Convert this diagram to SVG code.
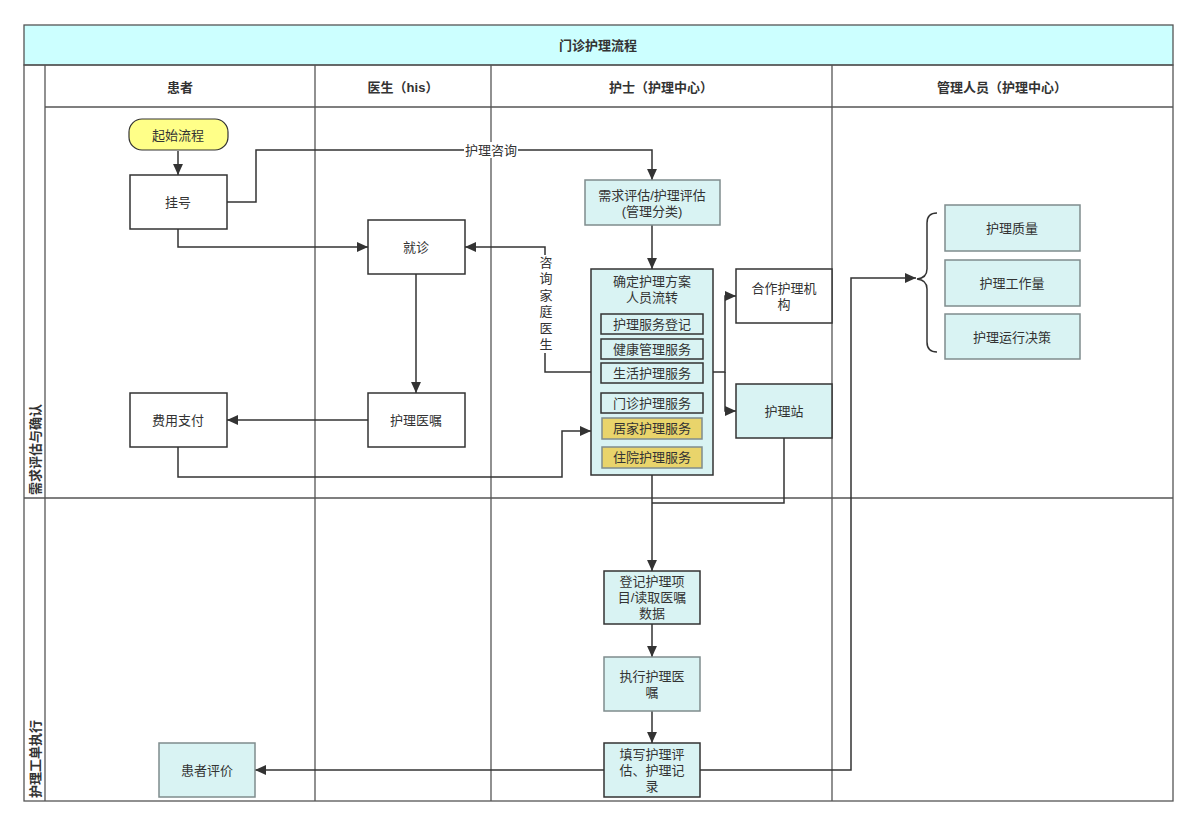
<svg xmlns="http://www.w3.org/2000/svg" width="1198" height="826" viewBox="0 0 1198 826">
<defs>
<marker id="arr" viewBox="0 0 10 10" refX="10" refY="5" markerWidth="11" markerHeight="11" markerUnits="userSpaceOnUse" orient="auto"><path d="M0,0.5 L10,5 L0,9.5 Z" fill="#333"/></marker>
<style>
text{font-family:"Liberation Sans","Noto Sans CJK SC",sans-serif;font-size:13px;fill:#333;text-anchor:middle;dominant-baseline:central}
.b{font-weight:bold}
.lane{fill:none;stroke:#555;stroke-width:1.3}
.c{fill:none;stroke:#333;stroke-width:1.5}
.ca{fill:none;stroke:#333;stroke-width:1.5;marker-end:url(#arr)}
.w{fill:#fff;stroke:#333;stroke-width:1.5}
.cy{fill:#d9f3f3;stroke:#333;stroke-width:1.5}
.cg{fill:#d9f3f3;stroke:#7f8c8d;stroke-width:1.5}
.gd{fill:#e9d46b;stroke:#7f8c8d;stroke-width:1.5}
.vt{writing-mode:vertical-rl;letter-spacing:3.5px}
</style>
</defs>
<rect width="1198" height="826" fill="#fff"/>
<g id="pool">
<rect x="24" y="25" width="1149" height="40" fill="#ccffff" stroke="#555" stroke-width="1.3"/>
<text class="b" x="598" y="45">门诊护理流程</text>
<rect x="24" y="65" width="1149" height="736" class="lane"/>
<line x1="45" y1="65" x2="45" y2="801" class="lane"/>
<line x1="45" y1="107" x2="1173" y2="107" class="lane"/>
<line x1="315" y1="65" x2="315" y2="801" class="lane"/>
<line x1="491" y1="65" x2="491" y2="801" class="lane"/>
<line x1="832" y1="65" x2="832" y2="801" class="lane"/>
<line x1="24" y1="498" x2="1173" y2="498" class="lane"/>
<text class="b" x="180" y="87">患者</text>
<text class="b" x="403" y="87">医生（his）</text>
<text class="b" x="661" y="87">护士（护理中心）</text>
<text class="b" x="1002" y="87">管理人员（护理中心）</text>
<text class="b" transform="translate(35,495) rotate(-90)" style="text-anchor:start">需求评估与确认</text>
<text class="b" transform="translate(35,798) rotate(-90)" style="text-anchor:start">护理工单执行</text>
</g>
<g id="connectors">
<line x1="178" y1="151" x2="178" y2="175" class="ca"/>
<path d="M227,202 H256 V150 H652 V180" class="ca"/>
<rect x="464" y="142" width="54" height="16" fill="#fff"/>
<text x="491" y="150">护理咨询</text>
<path d="M178,229 V247 H368" class="ca"/>
<line x1="652" y1="225" x2="652" y2="269" class="ca"/>
<path d="M591,372 H545 V247 H465" class="ca"/>
<rect x="537" y="255" width="16" height="98" fill="#fff"/>
<text class="vt" x="545" y="305">咨询家庭医生</text>
<line x1="416" y1="274" x2="416" y2="393" class="ca"/>
<line x1="368" y1="420" x2="227" y2="420" class="ca"/>
<path d="M178,447 V477 H562 V431 H591" class="ca"/>
<path d="M713,372 H725 V296 H736" class="ca"/>
<path d="M725,372 V411 H736" class="ca"/>
<path d="M784,438 V503 H652" class="c"/>
<line x1="652" y1="475" x2="652" y2="571" class="ca"/>
<line x1="652" y1="624" x2="652" y2="657" class="ca"/>
<line x1="652" y1="711" x2="652" y2="743" class="ca"/>
<line x1="604" y1="770" x2="255" y2="770" class="ca"/>
<path d="M700,770 H851 V278 H916" class="ca"/>
<path d="M937,213 Q927,213 927,223 V269 Q927,278 917,279 Q927,280 927,289 V342 Q927,352 937,352" class="c"/>
</g>
<g id="n-start"><rect x="129" y="119" width="99" height="31" rx="13" fill="#ffff88" stroke="#333" stroke-width="1.2"/><text x="178" y="135">起始流程</text></g>
<g id="n-guahao"><rect x="130" y="175" width="97" height="54" class="w"/><text x="178" y="202">挂号</text></g>
<g id="n-jiuzhen"><rect x="368" y="220" width="97" height="54" class="w"/><text x="416" y="247">就诊</text></g>
<g id="n-yizhu"><rect x="368" y="393" width="97" height="54" class="w"/><text x="416" y="420">护理医嘱</text></g>
<g id="n-feiyong"><rect x="130" y="393" width="97" height="54" class="w"/><text x="178" y="420">费用支付</text></g>
<g id="n-xuqiu"><rect x="585" y="180" width="135" height="45" class="cg"/><text x="652" y="195">需求评估/护理评估<tspan x="652" dy="16">(管理分类)</tspan></text></g>
<g id="n-queding">
<rect x="591" y="269" width="122" height="206" class="cy"/>
<text x="652" y="281">确定护理方案<tspan x="652" dy="16">人员流转</tspan></text>
<rect x="601" y="314" width="102" height="20" class="cy"/><text x="652" y="324">护理服务登记</text>
<rect x="601" y="339" width="102" height="20" class="cy"/><text x="652" y="349">健康管理服务</text>
<rect x="601" y="363" width="102" height="20" class="cy"/><text x="652" y="373">生活护理服务</text>
<rect x="601" y="393" width="102" height="20" class="cy"/><text x="652" y="403">门诊护理服务</text>
<rect x="602" y="418" width="100" height="21" class="gd"/><text x="652" y="428">居家护理服务</text>
<rect x="602" y="447" width="100" height="21" class="gd"/><text x="652" y="457">住院护理服务</text>
</g>
<g id="n-hezuo"><rect x="736" y="269" width="96" height="54" class="w"/><text x="784" y="288">合作护理机<tspan x="784" dy="16">构</tspan></text></g>
<g id="n-huliz"><rect x="736" y="384" width="96" height="54" class="cy"/><text x="784" y="411">护理站</text></g>
<g id="n-dengji"><rect x="604" y="571" width="96" height="53" class="cy"/><text x="652" y="581">登记护理项<tspan x="652" dy="16">目/读取医嘱</tspan><tspan x="652" dy="16">数据</tspan></text></g>
<g id="n-zhixing"><rect x="604" y="657" width="96" height="54" class="cg"/><text x="652" y="676">执行护理医<tspan x="652" dy="16">嘱</tspan></text></g>
<g id="n-tianxie"><rect x="604" y="743" width="96" height="54" class="cy"/><text x="652" y="754">填写护理评<tspan x="652" dy="16">估、护理记</tspan><tspan x="652" dy="16">录</tspan></text></g>
<g id="n-pingjia"><rect x="159" y="743" width="96" height="54" class="cg"/><text x="207" y="770">患者评价</text></g>
<g id="n-zhiliang"><rect x="945" y="205" width="135" height="46" class="cg"/><text x="1012" y="228">护理质量</text></g>
<g id="n-gongzuo"><rect x="945" y="260" width="135" height="46" class="cg"/><text x="1012" y="283">护理工作量</text></g>
<g id="n-juece"><rect x="945" y="314" width="135" height="45" class="cg"/><text x="1012" y="337">护理运行决策</text></g>
</svg>
